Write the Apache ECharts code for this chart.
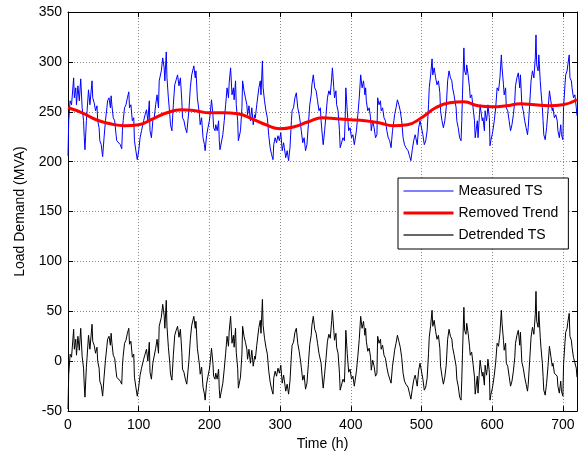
<!DOCTYPE html>
<html>
<head>
<meta charset="utf-8">
<script src="https://cdn.jsdelivr.net/npm/echarts@6/dist/echarts.min.js"></script>
<style>
html,body{margin:0;padding:0;background:#fff;}
#c{width:579px;height:456px;}
</style>
</head>
<body>
<div id="c"></div>
<script>
// Sample times (h) of the measured / detrended series
const sampleHours = [
0,1,3,5,8,9,11,12,14,16,18,20,22,23,24,26,27,29,31,34,35,37,39,41,42,44,45,47,49,51,53,55,56,58,60,61,62,64,66,68,69,71,74,76,77,78,80,82,84,86,87,89,91,93,94,96,98,100,102,104,107,109,111,113,115,116,118,120,122,124,126,128,129,130,132,134,136,137,139,140,142,144,145,147,149,151,153,155,157,159,161,162,164,166,168,171,173,175,178,
180,181,183,186,187,189,191,193,194,196,198,200,201,203,205,206,208,209,211,213,214,215,217,219,221,223,225,227,228,230,232,234,235,237,238,240,241,242,244,246,247,249,251,253,254,256,258,260,262,264,265,267,270,272,273,275,276,278,280,282,284,286,288,290,291,293,295,297,299,301,303,305,306,308,310,312,314,316,317,319,321,323,325,327,329,330,332,334,336,338,340,342,344,345,347,349,351,353,355,357,358,360,
361,363,365,367,369,371,373,374,376,377,379,380,382,384,385,387,389,391,392,393,395,397,399,401,403,405,407,408,410,412,414,416,418,420,421,422,424,426,428,429,431,433,435,437,438,440,442,443,445,447,449,451,453,455,457,459,461,462,464,466,468,470,472,474,476,478,479,481,483,485,487,489,491,492,494,496,498,500,502,504,506,508,510,511,513,515,516,518,520,522,524,526,527,529,531,533,535,537,539,541,543,544,546,
547,549,550,552,554,556,557,558,560,561,563,564,566,568,569,571,573,575,576,577,579,580,582,583,584,586,587,589,590,592,593,594,596,597,598,600,601,603,605,607,609,611,613,614,616,617,619,620,622,624,626,628,630,632,633,635,637,639,640,642,644,646,648,650,651,653,655,657,659,661,662,663,665,666,668,669,671,672,673,675,677,679,681,683,685,686,688,690,692,693,695,697,698,700,701,703,704,706,707,709,710,712,713,715,717,719,720
];

// Measured TS (MVA)
const measuredValues = [
206,241,261,257,284,264,274,257,276,261,283,254,241,224,212,241,251,272,257,281,264,259,251,256,241,234,221,217,205,224,241,254,261,264,254,266,257,244,241,227,221,219,217,213,231,241,254,257,264,270,254,257,241,244,221,211,202,211,224,231,241,247,252,241,261,231,224,241,244,257,267,254,281,282,291,304,294,281,310,284,264,247,237,231,257,277,282,287,276,284,261,244,241,234,229,251,274,287,296,
284,291,264,247,237,244,224,217,211,226,234,241,247,262,247,234,231,237,231,241,221,212,214,227,241,257,274,264,279,294,267,274,262,281,257,241,221,222,231,254,281,271,264,257,247,256,241,254,237,247,244,257,274,281,267,301,274,261,251,244,226,214,207,202,217,224,219,226,221,229,211,219,214,204,211,201,214,241,251,254,264,269,254,247,237,231,219,224,211,217,237,257,267,277,287,274,271,261,251,254,241,224,
217,231,247,264,271,267,284,294,274,264,271,257,251,231,214,212,224,221,241,274,251,231,234,224,227,217,216,231,247,264,287,274,281,267,274,261,251,254,244,231,241,234,224,227,264,257,261,251,254,244,241,231,224,221,214,231,241,247,254,262,257,251,241,224,217,214,216,211,206,201,212,221,227,224,217,234,241,241,227,217,221,231,257,274,287,303,287,294,284,277,281,269,251,241,234,241,254,281,291,284,281,274,267,
267,254,241,234,224,221,241,267,314,291,287,297,287,274,264,267,254,241,224,222,241,224,247,257,251,241,244,231,251,241,247,257,244,216,221,227,231,241,254,274,271,284,307,294,277,267,274,254,251,241,231,237,247,261,276,284,289,274,287,257,251,241,234,227,234,257,281,291,284,304,327,297,291,307,281,271,254,241,227,222,234,251,271,261,251,254,244,247,241,231,224,237,227,222,254,277,287,291,297,307,284,281,274,264,267,254,246
];

// Detrended TS (MVA)
const detrendedValues = [
-48,-13,7,4,32,12,22,6,25,11,33,5,-7,-24,-36,-6,4,26,12,37,20,16,8,14,0,-7,-20,-24,-35,-16,1,15,22,25,16,28,19,6,3,-10,-16,-18,-20,-23,-5,5,18,21,28,33,17,20,4,7,-16,-26,-35,-26,-14,-7,2,7,12,0,19,-11,-18,-2,0,13,22,8,35,36,44,57,46,33,61,35,14,-2,-13,-19,6,26,31,35,24,32,9,-8,-11,-18,-23,0,22,36,45,
33,40,13,-4,-13,-6,-26,-33,-39,-23,-15,-8,-2,13,-2,-15,-18,-12,-18,-8,-28,-37,-35,-22,-8,8,25,15,30,45,18,26,14,33,9,-7,-27,-25,-16,7,35,25,19,12,2,12,-2,11,-5,5,2,16,34,41,28,62,36,23,14,7,-10,-21,-28,-33,-17,-10,-15,-7,-12,-4,-22,-14,-19,-30,-23,-33,-20,6,16,19,29,33,18,10,0,-6,-19,-14,-28,-22,-3,17,26,36,45,32,28,18,8,10,-2,-20,
-27,-13,3,20,27,23,41,51,31,21,28,14,8,-12,-29,-30,-18,-21,-1,31,8,-11,-8,-18,-15,-25,-25,-10,5,22,45,33,40,26,33,20,10,13,4,-9,1,-5,-15,-12,25,18,22,12,16,6,3,-6,-13,-15,-22,-5,5,11,18,26,20,14,4,-12,-20,-23,-21,-26,-32,-38,-28,-19,-14,-17,-25,-9,-2,-3,-18,-29,-26,-17,8,24,36,51,35,41,30,22,26,13,-5,-15,-23,-16,-4,22,32,25,22,14,7,
7,-5,-18,-25,-36,-39,-19,7,54,31,27,38,28,15,6,9,-3,-16,-33,-34,-15,-32,-9,1,-5,-15,-11,-24,-4,-14,-8,2,-11,-39,-34,-28,-24,-14,-1,18,15,28,51,38,21,11,18,-2,-5,-15,-25,-20,-10,4,18,26,31,16,29,-1,-7,-16,-23,-30,-23,0,24,34,27,47,70,40,34,50,24,14,-2,-15,-29,-34,-22,-5,15,5,-5,-2,-12,-10,-15,-25,-32,-20,-30,-35,-3,19,29,33,39,48,25,21,14,4,6,-7,-16
];

// Removed trend (MVA)
const trendHours = [0,20,40,60,80,100,120,140,160,180,200,220,240,260,280,300,320,340,360,380,400,420,440,460,480,500,520,540,560,580,600,620,640,660,680,700,720];
const trendValues = [254,249,242,238,236,237,243,249,252,251,249,249,248,243,237,233,235,240,244,243,242,241,239,236,237,244,254,259,260,256,255,256,258,257,256,257,262];

const seriesNames = ['Measured TS', 'Removed Trend', 'Detrended TS'];
const xTicks = {min: 0, max: 720, interval: 100};
const yTicks = {min: -50, max: 350, interval: 50};

const measuredData = sampleHours.map((h, i) => [h, measuredValues[i]]);
const detrendedData = sampleHours.map((h, i) => [h, detrendedValues[i]]);
const trendData = trendHours.map((h, i) => [h, trendValues[i]]);

const FONT = '"Liberation Sans", Arial, Helvetica, sans-serif';
const chart = echarts.init(document.getElementById('c'), null, {renderer: 'canvas'});

const baseAxisLine = {show: true, onZero: false, lineStyle: {color: '#000', width: 1}};
const baseTick = {show: true, inside: true, length: 5, lineStyle: {color: '#000', width: 1}};
const gridLine = {show: true, lineStyle: {color: '#8a8a8a', width: 1, type: [1, 2]}};

chart.setOption({
  animation: false,
  backgroundColor: '#fff',
  textStyle: {fontFamily: FONT},
  grid: {left: 68, right: 2, top: 12, bottom: 44, containLabel: false},
  legend: {
    orient: 'vertical',
    left: 398, top: 178,
    padding: [6, 10, 7, 4],
    itemGap: 8,
    itemWidth: 50,
    itemHeight: 14,
    backgroundColor: '#fff',
    borderColor: '#000',
    borderWidth: 1,
    borderRadius: 0,
    itemStyle: {opacity: 0},
    textStyle: {fontSize: 14, color: '#000', fontFamily: FONT},
    data: [
      {name: seriesNames[0], lineStyle: {width: 1, color: '#0000ff'}},
      {name: seriesNames[1], lineStyle: {width: 3, color: '#ff0000'}},
      {name: seriesNames[2], lineStyle: {width: 1.5, color: '#333333'}}
    ]
  },
  xAxis: [
    {
      type: 'value', min: xTicks.min, max: xTicks.max, interval: xTicks.interval,
      axisLine: baseAxisLine, axisTick: baseTick,
      axisLabel: {color: '#000', fontSize: 14, margin: 7, showMaxLabel: false, fontFamily: FONT},
      splitLine: gridLine,
      name: 'Time (h)', nameLocation: 'middle', nameGap: 23,
      nameTextStyle: {color: '#000', fontSize: 14, fontFamily: FONT}
    },
    {
      type: 'value', position: 'top', min: xTicks.min, max: xTicks.max, interval: xTicks.interval,
      axisLine: baseAxisLine, axisTick: baseTick,
      axisLabel: {show: false}, splitLine: {show: false}
    }
  ],
  yAxis: [
    {
      type: 'value', min: yTicks.min, max: yTicks.max, interval: yTicks.interval,
      axisLine: baseAxisLine, axisTick: baseTick,
      axisLabel: {color: '#000', fontSize: 14, margin: 6, fontFamily: FONT},
      splitLine: gridLine,
      name: 'Load Demand (MVA)', nameLocation: 'middle', nameGap: 41,
      nameTextStyle: {color: '#000', fontSize: 14, fontFamily: FONT}
    },
    {
      type: 'value', position: 'right', min: yTicks.min, max: yTicks.max, interval: yTicks.interval,
      axisLine: baseAxisLine, axisTick: baseTick,
      axisLabel: {show: false}, splitLine: {show: false}
    }
  ],
  series: [
    {
      name: seriesNames[0], type: 'line', xAxisIndex: 0, yAxisIndex: 0,
      data: measuredData, symbol: 'none', showSymbol: false,
      lineStyle: {color: '#0000ff', width: 1}, itemStyle: {color: '#0000ff'}, z: 2
    },
    {
      name: seriesNames[1], type: 'line', xAxisIndex: 0, yAxisIndex: 0,
      data: trendData, symbol: 'none', showSymbol: false, smooth: true,
      lineStyle: {color: '#ff0000', width: 3}, itemStyle: {color: '#ff0000'}, z: 3
    },
    {
      name: seriesNames[2], type: 'line', xAxisIndex: 0, yAxisIndex: 0,
      data: detrendedData, symbol: 'none', showSymbol: false,
      lineStyle: {color: '#000000', width: 1}, itemStyle: {color: '#000000'}, z: 2
    }
  ]
});
</script>
</body>
</html>
